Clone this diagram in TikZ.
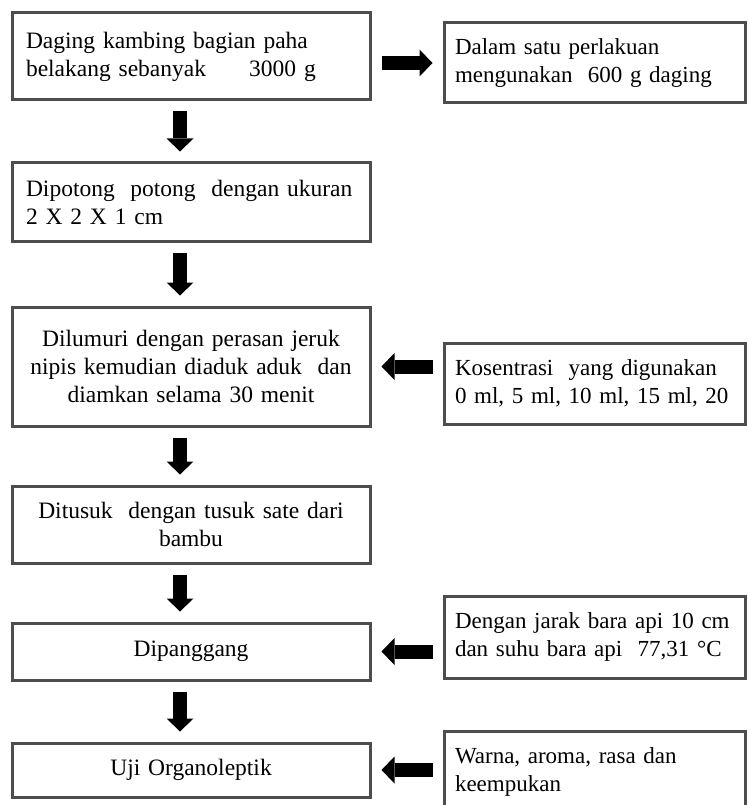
\documentclass[tikz,border=0pt]{standalone}
\usepackage{fontspec}
\setmainfont{Liberation Serif}
\usetikzlibrary{positioning,arrows.meta,calc}
\definecolor{boxgray}{HTML}{4D4D4D}
\tikzset{
  box/.style={rectangle, draw=boxgray, line width=3pt, fill=white,
    inner xsep=14pt, inner ysep=0pt, font=\fontsize{23.5}{28}\selectfont},
  stepbox/.style={box, text width=330pt, minimum height=#1},
  notebox/.style={box, text width=279pt, inner xsep=11pt, align=left,
    font=\fontsize{23}{28}\selectfont, minimum height=#1},
  flowarrow/.style={line width=14pt, shorten <=10pt, shorten >=10pt,
    -{Triangle[length=13pt,width=27pt,line width=0pt]}},
}
\begin{document}
\begin{tikzpicture}[x=1pt,y=-1pt]
\path[use as bounding box,clip] (0,0) rectangle (747,805);
\fill[white] (0,0) rectangle (747,805);
% main steps
\node[stepbox=87pt, align=left] (daging) at (191,56.5) {Daging kambing bagian paha\\belakang sebanyak\hspace{1.5em} 3000 g};
\node[stepbox=78pt, align=left] (potong) at (191,202) {Dipotong~ potong~ dengan ukuran\\2 X 2 X 1 cm};
\node[stepbox=119pt, align=center] (lumur) at (191,366.5) {Dilumuri dengan perasan jeruk\\nipis kemudian diaduk aduk~ dan\\diamkan selama 30 menit};
\node[stepbox=77pt, align=center] (tusuk) at (191,524.5) {Ditusuk~ dengan tusuk sate dari\\bambu};
\node[stepbox=57pt, align=center] (panggang) at (191,651.5) {Dipanggang};
\node[stepbox=54pt, align=center] (uji) at (191,770) {Uji Organoleptik};
% side notes
\node[notebox=80pt] (satu) at (594.5,63) {Dalam satu perlakuan\\mengunakan~ 600 g daging};
\node[notebox=81pt] (kosentrasi) at (594.5,383.5) {Kosentrasi~ yang digunakan\\0 ml, 5 ml, 10 ml, 15 ml, 20};
\node[notebox=82pt] (jarak) at (594.5,637) {Dengan jarak bara api 10 cm\\dan suhu bara api~ 77,31 °C};
\node[notebox=82pt] (warna) at (594.5,772) {Warna, aroma, rasa dan\\keempukan};
% arrows
\foreach \a/\b in {daging/potong, potong/lumur, lumur/tusuk, tusuk/panggang, panggang/uji}
  \draw[flowarrow] ([xshift=-11pt]\a.south) -- ([xshift=-11pt]\b.north);
\draw[flowarrow] (daging.east |- satu.west) -- (satu.west);
\draw[flowarrow] (kosentrasi.west |- lumur.east) -- (lumur.east);
\draw[flowarrow] (jarak.west |- panggang.east) -- (panggang.east);
\draw[flowarrow] (warna.west |- uji.east) -- (uji.east);
\end{tikzpicture}
\end{document}
